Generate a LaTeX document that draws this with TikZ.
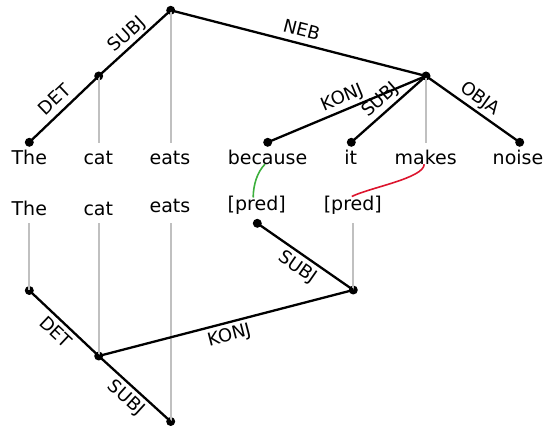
\documentclass[tikz,border=0pt]{standalone}
\usepackage{fontspec}
\setmainfont{DejaVu Sans}
\definecolor{guidegray}{RGB}{192,192,192}
\definecolor{linkgreen}{RGB}{60,175,60}
\definecolor{linkred}{RGB}{220,20,45}
\begin{document}
\begin{tikzpicture}[x=1pt,y=-1pt,
  dot/.style={circle, fill=black, inner sep=0pt, minimum size=9pt},
  word/.style={anchor=base, inner sep=0pt, text height=13.5pt, text depth=4pt, font=\fontsize{19}{21}\selectfont},
  edge/.style={line width=2.3pt},
  guide/.style={line width=2pt, draw=guidegray},
  lab/.style={font=\fontsize{18}{19}\selectfont, sloped, inner sep=1pt, text height=13pt, text depth=0pt},
  greenlink/.style={line width=1.6pt, draw=linkgreen},
  redlink/.style={line width=1.6pt, draw=linkred}]
\useasboundingbox (0,0) rectangle (544,427);
% top row words
\node[word] (w1) at (29.3,165) {The};
\node[word] (w2) at (98.3,165) {cat};
\node[word] (w3) at (170,165) {eats};
\node[word] (w4) at (267.5,165) {because};
\node[word] (w5) at (350.8,165) {it};
\node[word] (w6) at (425.7,165) {makes};
\node[word] (w7) at (518,165) {noise};
% top dots
\node[dot] (d1) at (29.3,142.3) {};
\node[dot] (d2) at (98.7,76) {};
\node[dot] (d3) at (170.7,10.3) {};
\node[dot] (d4) at (267.7,142.3) {};
\node[dot] (d5) at (351.3,142.3) {};
\node[dot] (d6) at (426,76) {};
\node[dot] (d7) at (519.7,142.3) {};
% second row words
\node[word] (v1) at (29.3,216) {The};
\node[word] (v2) at (98.3,216) {cat};
\node[word] (v3) at (170,212.3) {eats};
\node[word] (v4) at (256.7,210.7) {[pred]};
\node[word] (v5) at (352.8,210.7) {[pred]};
% bottom dots
\node[dot] (e1) at (29.3,290.5) {};
\node[dot] (e2) at (98.7,356) {};
\node[dot] (e3) at (170.7,421.5) {};
\node[dot] (e4) at (257.3,223.3) {};
\node[dot] (e5) at (353.3,290) {};
% guide lines top
\draw[guide] (d2.center) -- (d2.center |- 0,143.5);
\draw[guide] (d3.center) -- (d3.center |- 0,143.5);
\draw[guide] (d6.center) -- (d6.center |- 0,143.5);
% guide lines bottom
\draw[guide] ([yshift=-3pt]v1.south -| e1.center) -- (e1.center);
\draw[guide] ([yshift=-3pt]v2.south -| e2.center) -- (e2.center);
\draw[guide] ([yshift=-6.7pt]v3.south -| e3.center) -- (e3.center);
\draw[guide] ([yshift=-8.3pt]v5.south -| e5.center) -- (e5.center);
% top tree
\draw[edge] (d1.center) -- node[lab,above=5pt]{DET} (d2.center);
\draw[edge] (d2.center) -- node[lab,above=4pt]{SUBJ} (d3.center);
\draw[edge] (d3.center) -- node[lab,above=5pt]{NEB} (d6.center);
\draw[edge] (d4.center) -- node[lab,above=5pt]{KONJ} (d6.center);
\draw[edge] (d5.center) -- node[lab,above=5pt]{SUBJ} (d6.center);
\draw[edge] (d6.center) -- node[lab,above=5pt]{OBJA} (d7.center);
% bottom tree
\draw[edge] (e1.center) -- node[lab,below=3pt]{DET} (e2.center);
\draw[edge] (e2.center) -- node[lab,below=3pt]{KONJ} (e5.center);
\draw[edge] (e2.center) -- node[lab,below=3pt]{SUBJ} (e3.center);
\draw[edge] (e4.center) -- node[lab,below=3pt]{SUBJ} (e5.center);
% alignment links
\draw[greenlink] ([shift={(-2.5,-5)}]w4.south) .. controls +(-8,8) and +(0,-12) .. ([shift={(-3.5,0.5)}]v4.north);
\draw[redlink] ([shift={(-1.5,-5)}]w6.south) .. controls +(0,14) and +(18,-9) .. ([shift={(-1,-0.5)}]v5.north);
\end{tikzpicture}
\end{document}
